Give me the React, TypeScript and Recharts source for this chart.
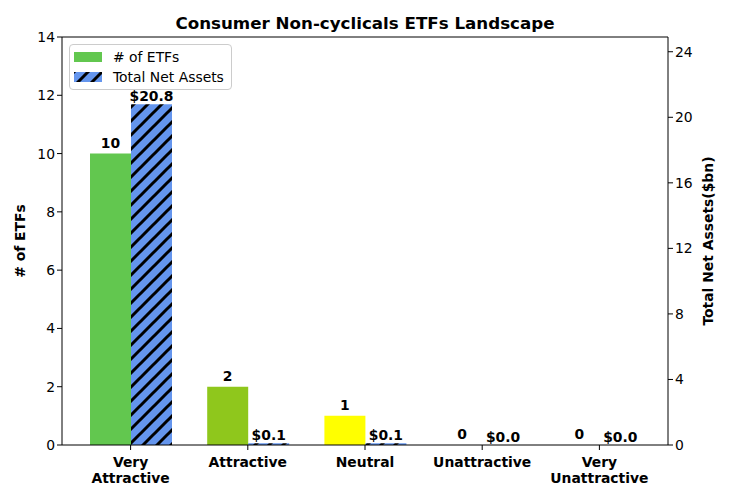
import {
  Bar,
  BarChart,
  Cell,
  LabelList,
  ReferenceLine,
  XAxis,
  YAxis,
} from "recharts";

const CATEGORIES = ["Very Attractive", "Attractive", "Neutral", "Unattractive", "Very Unattractive"];
const ETF_COUNTS = [10, 2, 1, 0, 0];
const NET_ASSETS = [20.8, 0.1, 0.1, 0, 0];
const COUNT_COLORS = ["#62c74f", "#8fc71c", "#ffff00", "#d9534f", "#c0392b"];
const LEFT_TICKS = [0, 2, 4, 6, 8, 10, 12, 14];
const RIGHT_TICKS = [0, 4, 8, 12, 16, 20, 24];

const FONT = "'DejaVu Sans', sans-serif";
const FS = 13.9;
const BLUE = "#6495ed";

const data = CATEGORIES.map((c, i) => ({
  name: c,
  count: ETF_COUNTS[i],
  assets: NET_ASSETS[i],
}));

// zero bars still need their value labels, so give them a hair of height
const keepZero = (v: any) => (Number(v) === 0 ? 0.01 : 0);

function XTick({ x, y, payload }: any) {
  const words = String(payload.value).split(" ");
  const lines = words.length > 1 ? [words[0], words.slice(1).join(" ")] : words;
  return (
    <text x={x} y={y + 3} textAnchor="middle" fontFamily={FONT} fontSize={FS} fontWeight="bold" fill="#000">
      {lines.map((l, i) => (
        <tspan key={i} x={x} dy={i === 0 ? 12 : 16}>
          {l}
        </tspan>
      ))}
    </text>
  );
}

function HatchDefs() {
  return (
    <svg width={0} height={0} style={{ position: "absolute" }}>
      <defs>
        <pattern id="hatch" patternUnits="userSpaceOnUse" width={14} height={14}>
          <rect width={14} height={14} fill={BLUE} />
          <path d="M-3,3 L3,-3 M0,14 L14,0 M11,17 L17,11" stroke="#000" strokeWidth={3} />
        </pattern>
      </defs>
    </svg>
  );
}

function Legend() {
  return (
    <div
      style={{
        position: "absolute",
        left: 69,
        top: 44,
        width: 163,
        height: 46,
        border: "1px solid #cccccc",
        borderRadius: 4,
        background: "rgba(255,255,255,0.8)",
        fontFamily: FONT,
        fontSize: FS,
        boxSizing: "border-box",
      }}
    >
      <div style={{ position: "absolute", left: 4, top: 4, display: "flex", alignItems: "center" }}>
        <span style={{ display: "inline-block", width: 28, height: 10, background: COUNT_COLORS[0] }} />
        <span style={{ marginLeft: 11, lineHeight: "16px" }}># of ETFs</span>
      </div>
      <div style={{ position: "absolute", left: 4, top: 24, display: "flex", alignItems: "center" }}>
        <svg width={28} height={10} style={{ display: "block" }}>
          <rect width={28} height={10} fill="url(#hatch)" />
        </svg>
        <span style={{ marginLeft: 11, lineHeight: "16px" }}>Total Net Assets</span>
      </div>
    </div>
  );
}

export default function App() {
  return (
    <div style={{ position: "absolute", left: 0, top: 0, width: 730, height: 500, background: "#fff" }}>
      <HatchDefs />
      <div
        style={{
          position: "absolute",
          top: 13,
          left: 0,
          width: 730,
          textAlign: "center",
          fontFamily: FONT,
          fontSize: 16.7,
          fontWeight: "bold",
        }}
      >
        Consumer Non-cyclicals ETFs Landscape
      </div>
      <BarChart
        width={730}
        height={500}
        data={data}
        margin={{ top: 37, right: 0, bottom: 0, left: 0 }}
        barGap={0}
        barSize={41}
      >
        <XAxis
          dataKey="name"
          padding={{ left: 10, right: 10 }}
          tick={<XTick />}
          tickSize={5}
          stroke="#000"
          height={55}
          interval={0}
        />
        <YAxis
          yAxisId="left"
          domain={[0, 14]}
          ticks={LEFT_TICKS}
          width={62}
          tickSize={5}
          stroke="#000"
          tick={{ fill: "#000", fontFamily: FONT, fontSize: FS }}
          label={{
            value: "# of ETFs",
            angle: -90,
            position: "insideLeft",
            offset: 20,
            style: { textAnchor: "middle", fontFamily: FONT, fontSize: FS, fontWeight: "bold", fill: "#000" },
          }}
        />
        <YAxis
          yAxisId="right"
          orientation="right"
          domain={[0, 24.9]}
          ticks={RIGHT_TICKS}
          allowDataOverflow
          width={62}
          tickSize={5}
          stroke="#000"
          tick={{ fill: "#000", fontFamily: FONT, fontSize: FS }}
          label={{
            value: "Total Net Assets($bn)",
            angle: -90,
            position: "insideRight",
            offset: 22,
            style: { textAnchor: "middle", fontFamily: FONT, fontSize: FS, fontWeight: "bold", fill: "#000" },
          }}
        />
        <ReferenceLine yAxisId="left" y={14} stroke="#000" />
        <Bar yAxisId="left" dataKey="count" minPointSize={keepZero} isAnimationActive={false}>
          {data.map((_, i) => (
            <Cell key={i} fill={COUNT_COLORS[i]} />
          ))}
          <LabelList
            dataKey="count"
            position="top"
            offset={6}
            style={{ fontFamily: FONT, fontSize: FS, fontWeight: "bold", fill: "#000" }}
          />
        </Bar>
        <Bar
          yAxisId="right"
          dataKey="assets"
          fill="url(#hatch)"
          minPointSize={keepZero}
          isAnimationActive={false}
        >
          <LabelList
            dataKey="assets"
            position="top"
            offset={3}
            formatter={(v: any) => `$${Number(v).toFixed(1)}`}
            style={{ fontFamily: FONT, fontSize: FS, fontWeight: "bold", fill: "#000" }}
          />
        </Bar>
      </BarChart>
      <Legend />
    </div>
  );
}
